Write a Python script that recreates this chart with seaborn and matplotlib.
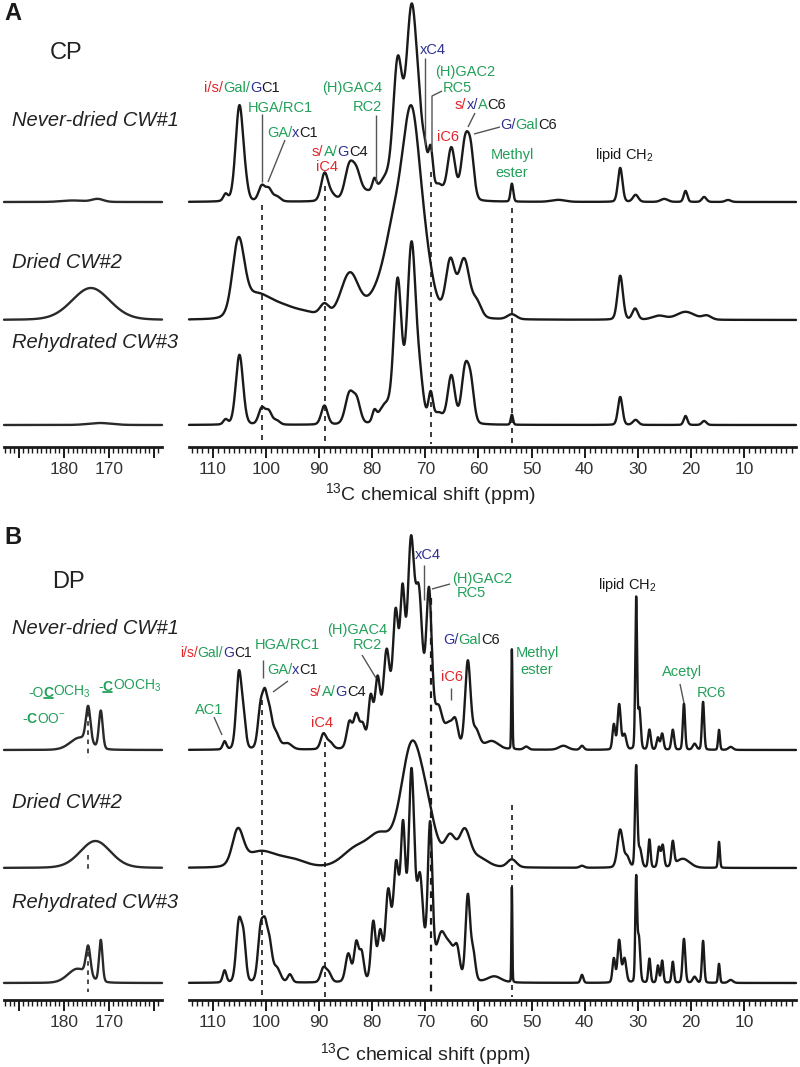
import numpy as np
import matplotlib
matplotlib.use("Agg")
import matplotlib.pyplot as plt
import seaborn as sns
from matplotlib.ticker import MultipleLocator, FixedLocator, FixedFormatter

# ---------------- data: peak lists ----------------
# (chemical shift ppm, intensity in px, half width ppm)
cp_never_co = [(172.5, 3, 1.5), (178.0, 1.5, 3.0)]
cp_never_sugar = [
    (107.6, 7, 0.5), (105.0, 96, 0.85), (103.8, 8, 0.6), (100.8, 15, 0.7),
    (99.5, 12, 0.7), (98.0, 5, 0.8), (89.0, 26, 0.75), (87.8, 7, 1.0),
    (84.3, 34, 1.0), (82.9, 22, 0.9), (81.0, 8, 1.5), (79.6, 12, 0.45),
    (77.5, 20, 1.5), (75.2, 130, 1.0), (72.6, 188, 1.2), (71.0, 45, 0.9),
    (70.0, 25, 0.5), (69.0, 45, 0.5), (67.5, 14, 1.0), (65.1, 52, 0.85),
    (62.5, 58, 0.85), (61.4, 40, 0.7), (53.7, 18, 0.3), (45.0, 2, 1.5),
    (33.3, 34, 0.5), (30.4, 7, 0.6), (25.0, 3, 0.8), (21.0, 11, 0.4),
    (17.5, 5, 0.5), (13.0, 2, 0.6)]
cp_dried_co = [(174.0, 32, 5.0)]
cp_dried_sugar = [
    (105.2, 72, 1.3), (102.0, 22, 3.0), (97.0, 12, 3.5), (92.0, 4, 2.5),
    (89.0, 12, 1.0), (84.2, 45, 2.0), (79.5, 15, 2.0), (76.0, 80, 2.2),
    (72.6, 190, 2.0), (69.8, 35, 1.8), (65.3, 55, 1.0), (62.7, 58, 1.2),
    (60.3, 15, 1.0), (53.7, 5, 1.0), (33.3, 44, 0.6), (30.5, 11, 0.6),
    (26.0, 4, 1.5), (21.0, 8, 2.0), (17.0, 4, 1.0)]
cp_rehyd_co = [(172.0, 2, 3.0)]
cp_rehyd_sugar = [
    (107.6, 5, 0.5), (105.0, 70, 0.8), (100.8, 16, 0.7), (99.5, 13, 0.7),
    (98.0, 4, 0.7), (89.0, 19, 0.7), (84.3, 30, 0.9), (82.9, 22, 0.8),
    (79.6, 10, 0.45), (77.5, 18, 1.4), (75.2, 140, 0.85), (72.6, 178, 0.95),
    (71.0, 35, 0.8), (69.0, 28, 0.5), (67.5, 10, 1.0), (65.1, 48, 0.8),
    (62.5, 54, 0.8), (61.4, 35, 0.7), (53.7, 10, 0.25), (33.3, 28, 0.5),
    (30.4, 5, 0.6), (21.0, 9, 0.4), (17.5, 4, 0.5)]

dp_never_co = [(176.5, 12, 2.5), (174.6, 36, 0.6), (171.8, 38, 0.5)]
dp_never_sugar = [
    (107.8, 8, 0.4), (105.1, 76, 0.6), (104.2, 25, 0.5), (101.0, 42, 0.6),
    (100.2, 38, 0.5), (99.4, 34, 0.6), (98.2, 16, 0.8), (96.0, 6, 1.0),
    (89.2, 15, 0.6), (88.0, 7, 0.7), (84.3, 26, 0.6), (83.0, 32, 0.6),
    (81.8, 22, 0.6), (80.3, 48, 0.5), (79.0, 65, 0.6), (77.3, 85, 0.7),
    (75.6, 105, 0.6), (74.3, 105, 0.5), (72.7, 145, 0.7), (72.5, 60, 3.0),
    (71.2, 100, 0.7), (69.3, 130, 0.6), (67.5, 30, 0.8), (65.5, 22, 1.0),
    (64.3, 20, 0.6), (62.0, 86, 0.6), (60.5, 18, 0.8), (57.5, 8, 1.5),
    (53.7, 100, 0.12), (51.0, 3, 0.5), (44.0, 4, 1.0), (40.5, 4, 0.4),
    (34.5, 25, 0.3), (33.5, 45, 0.35), (32.5, 15, 0.4), (30.3, 150, 0.2),
    (29.7, 40, 0.3), (27.8, 20, 0.3), (26.2, 12, 0.3), (25.4, 16, 0.3),
    (23.4, 20, 0.3), (21.3, 46, 0.25), (19.3, 6, 0.4), (17.7, 48, 0.25),
    (14.7, 20, 0.2), (12.5, 3, 0.5)]
dp_dried_co = [(173.0, 27, 4.0)]
dp_dried_sugar = [
    (105.3, 34, 1.2), (101.0, 16, 3.5), (95.0, 7, 3.0), (83.0, 18, 3.0),
    (78.5, 28, 2.5), (72.6, 118, 2.4), (69.5, 35, 2.0), (65.3, 28, 1.2),
    (62.6, 34, 1.2), (60.0, 9, 2.0), (53.7, 8, 1.0), (40.5, 2, 0.5),
    (33.3, 38, 0.6), (32.0, 10, 0.5), (30.3, 100, 0.25), (29.6, 18, 0.4),
    (27.8, 28, 0.25), (26.0, 20, 0.3), (25.3, 22, 0.3), (23.4, 24, 0.3),
    (21.5, 9, 1.5), (14.7, 26, 0.2)]
dp_rehyd_co = [(177.0, 14, 2.5), (174.6, 30, 0.6), (171.8, 42, 0.45)]
dp_rehyd_sugar = [
    (107.8, 12, 0.4), (105.1, 60, 0.6), (104.2, 38, 0.5), (101.0, 52, 0.6),
    (100.2, 38, 0.5), (99.4, 38, 0.6), (98.0, 14, 0.8), (95.5, 8, 0.5),
    (89.2, 14, 0.6), (88.2, 9, 0.6), (84.5, 28, 0.6), (83.0, 38, 0.5),
    (82.0, 28, 0.5), (79.8, 58, 0.5), (78.5, 45, 0.5), (77.0, 80, 0.6),
    (75.5, 95, 0.6), (74.2, 120, 0.5), (72.6, 170, 0.6), (72.5, 40, 3.0),
    (71.0, 70, 0.6), (69.1, 140, 0.5), (67.0, 40, 1.0), (65.3, 30, 1.0),
    (64.0, 26, 0.6), (62.0, 85, 0.5), (61.0, 28, 0.5), (57.0, 6, 1.5),
    (53.7, 95, 0.1), (40.5, 8, 0.3), (34.5, 24, 0.3), (33.5, 42, 0.35),
    (32.5, 24, 0.4), (30.3, 100, 0.2), (29.8, 45, 0.3), (27.8, 24, 0.25),
    (26.2, 17, 0.25), (25.4, 22, 0.25), (23.4, 21, 0.25), (21.3, 44, 0.3),
    (19.3, 6, 0.4), (17.7, 42, 0.25), (14.7, 19, 0.2), (12.5, 3, 0.5)]

left_tick_labels = ["180", "170"]
right_tick_labels = ["110", "100", "90", "80", "70", "60", "50", "40", "30", "20", "10"]
marker_ppm = [100.8, 88.9, 68.9, 53.7]
carbonyl_marker_ppm = 174.6

# ---------------- style ----------------
sns.set_theme(style="white")
plt.rcParams["font.family"] = ["Liberation Sans", "DejaVu Sans"]
plt.rcParams["mathtext.fontset"] = "custom"
plt.rcParams["mathtext.rm"] = "Liberation Sans"
plt.rcParams["mathtext.it"] = "Liberation Sans:italic"
plt.rcParams["mathtext.bf"] = "Liberation Sans:bold"

RED, GREEN, NAVY, BLACK, GRAY = "#e0262b", "#22a05a", "#2e3192", "#1a1a1a", "#555555"
W, H = 800, 1067
fig = plt.figure(figsize=(W / 100, H / 100), dpi=100)

LEFT_X = (4, 162)
RIGHT_X = (189, 796)
LEFT_LIM = (193.3, 158.2)
RIGHT_LIM = (114.5, 0.2)


def profile(grid, peaks, eta=0.15):
    y = np.zeros_like(grid)
    for c, h, w in peaks:
        d = (grid - c) / w
        y += h * ((1 - eta) * np.exp(-np.log(2) * d * d) + eta / (1 + d * d))
    return y


def make_ax(xpx, ytop, ybot, lim, left):
    ax = fig.add_axes([xpx[0] / W, 1 - ybot / H, (xpx[1] - xpx[0]) / W, (ybot - ytop) / H])
    ax.set_xlim(*lim)
    ax.set_ylim(0, ybot - ytop)
    ax.patch.set_alpha(0)
    for s in ["left", "right", "top"]:
        ax.spines[s].set_visible(False)
    ax.spines["bottom"].set_linewidth(2.0)
    ax.spines["bottom"].set_color(BLACK)
    ax.yaxis.set_visible(False)
    if left:
        ax.xaxis.set_major_locator(FixedLocator([190, 180, 170, 160]))
        ax.xaxis.set_major_formatter(FixedFormatter([""] + left_tick_labels + [""]))
    else:
        ax.xaxis.set_major_locator(FixedLocator([int(t) for t in right_tick_labels]))
        ax.xaxis.set_major_formatter(FixedFormatter(right_tick_labels))
    ax.xaxis.set_minor_locator(MultipleLocator(1))
    ax.tick_params(axis="x", which="major", bottom=True, length=8, width=1.4,
                   labelsize=12.5, pad=3, colors=BLACK, direction="out")
    ax.tick_params(axis="x", which="minor", bottom=True, length=4, width=1.0,
                   colors=BLACK, direction="out")
    for lab in ax.get_xticklabels():
        lab.set_color("#333333")
    return ax


def draw(ax, lim, peaks, base, color, lw):
    grid = np.linspace(lim[0], lim[1], 6000)
    y = base + profile(grid, peaks)
    sns.lineplot(x=grid, y=y, ax=ax, color=color, lw=lw, estimator=None,
                 sort=False, legend=False)
    for ln in ax.lines:
        ln.set_clip_on(False)


# ---------------- panels ----------------
panels = [
    dict(ytop=0, ybot=447, bases=(245, 127, 22),
         co=[cp_never_co, cp_dried_co, cp_rehyd_co],
         sugar=[cp_never_sugar, cp_dried_sugar, cp_rehyd_sugar],
         dash_start=[205, 186, 172, 208], co_dash=None),
    dict(ytop=520, ybot=1000, bases=(250, 132, 17),
         co=[dp_never_co, dp_dried_co, dp_rehyd_co],
         sugar=[dp_never_sugar, dp_dried_sugar, dp_rehyd_sugar],
         dash_start=[700, 742, 598, 805],
         co_dash=[(712, 758), (855, 872), (952, 992)]),
]

for p in panels:
    axl = make_ax(LEFT_X, p["ytop"], p["ybot"], LEFT_LIM, True)
    axr = make_ax(RIGHT_X, p["ytop"], p["ybot"], RIGHT_LIM, False)
    for base, co, sug in zip(p["bases"], p["co"], p["sugar"]):
        draw(axl, LEFT_LIM, co, base, "#2a2a2a", 1.7)
        draw(axr, RIGHT_LIM, sug, base, BLACK, 1.7)
    yb = p["ybot"]
    for ppm, ys in zip(marker_ppm, p["dash_start"]):
        lw = 1.6 if ppm == 68.9 and p["co_dash"] else 1.2
        axr.plot([ppm, ppm], [yb - ys, 3], ls=(0, (3, 3)), color=BLACK, lw=lw)
    if p["co_dash"]:
        for a, b in p["co_dash"]:
            axl.plot([carbonyl_marker_ppm] * 2, [yb - a, yb - b], ls=(0, (3, 3)), color=BLACK, lw=1.1)

# ---------------- overlay for text (pixel coords) ----------------
ov = fig.add_axes([0, 0, 1, 1])
ov.set_xlim(0, W)
ov.set_ylim(H, 0)
ov.axis("off")
ov.patch.set_alpha(0)


def txt(x, y, s, color=BLACK, size=10.5, **kw):
    kw.setdefault("va", "center")
    kw.setdefault("ha", "left")
    return ov.text(x, y, s, color=color, fontsize=size, **kw)


def rainbow(x, y, parts, size=10.5):
    t = None
    for part in parts:
        s, c = part[0], part[1]
        wt = part[2] if len(part) > 2 else "normal"
        if t is None:
            t = ov.text(x, y, s, color=c, fontsize=size, va="center", ha="left", fontweight=wt)
        else:
            t = ov.annotate(s, xy=(1, 0), xycoords=t, va="bottom", ha="left",
                            color=c, fontsize=size, fontweight=wt)
    return t


def seg(pts, color=GRAY, lw=1.0):
    xs, ys = zip(*pts)
    ov.plot(xs, ys, color=color, lw=lw, solid_capstyle="butt")


# Panel A
txt(4, 14, "A", size=17, fontweight="bold", color=BLACK)
txt(50, 53, "CP", size=17, color="#222222")
for y, s in [(120, "Never-dried CW#1"), (262, "Dried CW#2"), (343, "Rehydrated CW#3")]:
    txt(12, y, s, size=14.5, style="italic", color="#222222")
rainbow(204, 88, [("i/s/", RED), ("Gal/", GREEN), ("G", NAVY), ("C1", BLACK)])
txt(248, 108, "HGA/RC1", GREEN)
rainbow(267, 133, [("GA/", GREEN), ("x", NAVY), ("C1", BLACK)])
rainbow(312, 152, [("s/", RED), ("A/", GREEN), ("G", NAVY), ("C4", BLACK)])
txt(327, 167, "iC4", RED, ha="center")
txt(382, 88, "(H)GAC4", GREEN, ha="right")
txt(382, 107, "RC2", GREEN, ha="right")
txt(420, 50, "xC4", NAVY)
txt(435, 72, "(H)GAC2", GREEN)
txt(443, 88, "RC5", GREEN)
rainbow(455, 105, [("s/", RED), ("x/", NAVY), ("A", GREEN), ("C6", BLACK)])
txt(437, 137, "iC6", RED)
rainbow(500, 125, [("G/", NAVY), ("Gal", GREEN), ("C6", BLACK)])
txt(512, 155, "Methyl", GREEN, ha="center")
txt(512, 173, "ester", GREEN, ha="center")
txt(595, 155, r"lipid CH$_\mathregular{2}$", BLACK)
seg([(262, 114), (262, 182)])
seg([(285, 140), (268, 182)])
seg([(376, 115), (376, 183)])
seg([(425, 58), (425, 145)])
seg([(442, 91), (432, 96), (432, 152)])
seg([(475, 113), (468, 127)])
seg([(500, 127), (474, 134)])
txt(430, 494, r"$^{\mathregular{13}}$C chemical shift (ppm)", "#222222", size=14, ha="center")

# Panel B
txt(4, 538, "B", size=17, fontweight="bold", color=BLACK)
txt(52, 582, "DP", size=17, color="#222222")
for y, s in [(628, "Never-dried CW#1"), (803, "Dried CW#2"), (903, "Rehydrated CW#3")]:
    txt(12, y, s, size=14.5, style="italic", color="#222222")
rainbow(180, 653, [("i/s/", RED), ("Gal/", GREEN), ("G", NAVY), ("C1", BLACK)], size=10)
txt(255, 645, "HGA/RC1", GREEN)
rainbow(267, 670, [("GA/", GREEN), ("x", NAVY), ("C1", BLACK)])
txt(387, 630, "(H)GAC4", GREEN, ha="right")
txt(382, 645, "RC2", GREEN, ha="right")
rainbow(310, 692, [("s/", RED), ("A/", GREEN), ("G", NAVY), ("C4", BLACK)])
txt(322, 723, "iC4", RED, ha="center")
txt(195, 710, "AC1", GREEN)
rainbow(28, 693, [("-O", GREEN), ("C", GREEN, "bold"), (r"OCH$_\mathregular{3}$", GREEN)], size=10)
rainbow(98, 687, [("-", GREEN), ("C", GREEN, "bold"), (r"OOCH$_\mathregular{3}$", GREEN)], size=10)
rainbow(22, 719, [("-", GREEN), ("C", GREEN, "bold"), (r"OO$^{\mathregular{-}}$", GREEN)], size=10)
txt(415, 555, "xC4", NAVY)
txt(452, 579, "(H)GAC2", GREEN)
txt(457, 593, "RC5", GREEN)
rainbow(443, 640, [("G/", NAVY), ("Gal", GREEN), ("C6", BLACK)])
txt(452, 677, "iC6", RED, ha="center")
txt(537, 653, "Methyl", GREEN, ha="center")
txt(537, 670, "ester", GREEN, ha="center")
txt(598, 585, r"lipid CH$_\mathregular{2}$", BLACK)
txt(662, 672, "Acetyl", GREEN)
txt(697, 693, "RC6", GREEN)
seg([(263, 660), (263, 678)])
seg([(288, 681), (273, 692)])
seg([(362, 655), (376, 678)])
seg([(424, 565), (424, 600)])
seg([(450, 584), (432, 589)])
seg([(451, 688), (451, 700)])
seg([(680, 684), (684, 703)])
seg([(214, 717), (222, 735)])
txt(425, 1054, r"$^{\mathregular{13}}$C chemical shift (ppm)", "#222222", size=14, ha="center")

# underline the bold carbonyl carbons of the two ester labels
fig.canvas.draw()
inv = ov.transData.inverted()
bold_parts = [t for t in ov.texts if t.get_text() == "C" and t.get_fontweight() in ("bold", 700)]
for t in bold_parts[:2]:
    bb = t.get_window_extent()
    (xa, ya), (xb, yb2) = inv.transform([(bb.x0, bb.y0), (bb.x1, bb.y0)])
    ov.plot([xa + 0.5, xb - 0.5], [ya - 2.5, yb2 - 2.5], color=GREEN, lw=1.3)

fig.savefig("out.png", dpi=100)
